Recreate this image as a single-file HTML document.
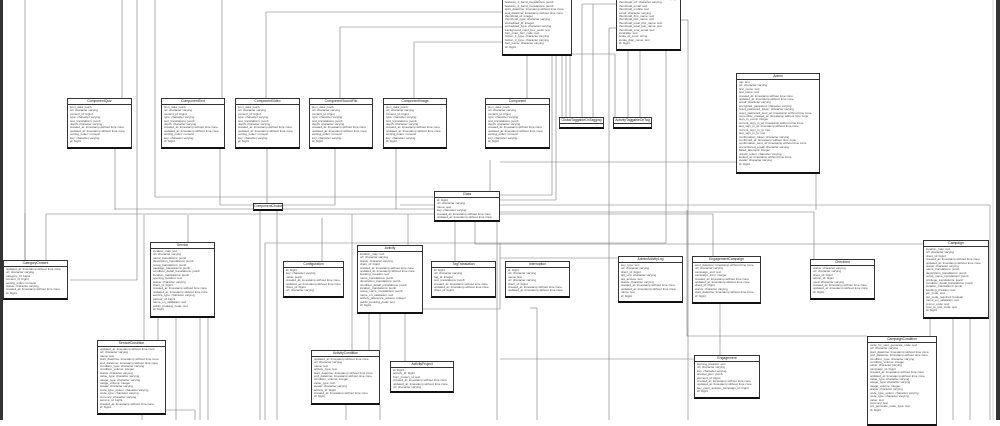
<!DOCTYPE html>
<html><head><meta charset="utf-8"><style>
body{margin:0;width:1000px;height:420px;background:#fff;position:relative;overflow:hidden;font-family:"Liberation Sans",sans-serif}
.b{position:absolute;background:#fff;border:1px solid #333;box-sizing:border-box;border-bottom:2px solid #111;overflow:hidden}
.t{font-size:3.4px;line-height:5px;text-align:center;border-bottom:1.5px double #333;color:#222}
.f{font-size:3px;line-height:3.4px;padding:1px 2px;color:#444;white-space:nowrap}
svg{position:absolute;left:0;top:0}
</style></head><body>
<svg width="1000" height="420" stroke="#777" stroke-width="0.6" fill="none">
<rect x="0" y="0" width="3" height="420" fill="#333" stroke="none"/>
<rect x="996" y="0" width="4" height="420" fill="#333" stroke="none"/>
<line x1="993" y1="0" x2="993" y2="420" stroke="#bbb"/>
<line x1="25" y1="0" x2="25" y2="260"/>
<line x1="137" y1="0" x2="137" y2="210"/>
<line x1="122" y1="0" x2="122" y2="98"/>
<line x1="155" y1="0" x2="155" y2="197"/>
<line x1="155" y1="197" x2="434" y2="197"/>
<line x1="222" y1="0" x2="222" y2="98"/>
<line x1="266" y1="12" x2="266" y2="98"/><line x1="266" y1="12" x2="560" y2="12"/>
<line x1="340" y1="27" x2="340" y2="98"/><line x1="340" y1="27" x2="560" y2="27"/>
<line x1="414" y1="42" x2="414" y2="98"/><line x1="414" y1="42" x2="560" y2="42"/>
<line x1="115" y1="149" x2="115" y2="210"/><line x1="115" y1="209" x2="434" y2="209"/>
<line x1="220" y1="149" x2="220" y2="205"/><line x1="220" y1="205" x2="335" y2="205"/><line x1="335" y1="149" x2="335" y2="205"/>
<line x1="267" y1="149" x2="267" y2="203"/>
<line x1="396" y1="149" x2="396" y2="209"/>
<line x1="490" y1="160" x2="490" y2="191"/>
<line x1="527" y1="56" x2="527" y2="98"/>
<line x1="552" y1="56" x2="552" y2="195"/><line x1="500" y1="195" x2="552" y2="195"/>
<line x1="556" y1="56" x2="556" y2="200"/><line x1="500" y1="200" x2="556" y2="200"/>
<line x1="562" y1="56" x2="562" y2="117"/><line x1="566" y1="56" x2="566" y2="117"/><line x1="570" y1="54" x2="570" y2="117"/>
<line x1="572" y1="54" x2="615" y2="54"/><line x1="615" y1="54" x2="615" y2="117"/>
<line x1="582" y1="4" x2="582" y2="117"/><line x1="582" y1="4" x2="616" y2="4"/>
<line x1="593" y1="4" x2="593" y2="117"/>
<line x1="628" y1="51" x2="628" y2="117"/><line x1="640" y1="51" x2="640" y2="117"/>
<line x1="609" y1="28" x2="609" y2="420"/><line x1="609" y1="28" x2="616" y2="28"/>
<line x1="666" y1="51" x2="666" y2="243"/>
<line x1="681" y1="20" x2="688" y2="20"/><line x1="688" y1="20" x2="688" y2="420"/>
<line x1="500" y1="162" x2="736" y2="162"/>
<line x1="816" y1="174" x2="816" y2="210"/>
<line x1="400" y1="205" x2="990" y2="205"/><line x1="990" y1="205" x2="990" y2="420"/>
<line x1="260" y1="210" x2="260" y2="420"/>
<line x1="277" y1="210" x2="277" y2="420"/>
<line x1="25" y1="213" x2="25" y2="260"/>
<line x1="46" y1="214" x2="46" y2="260"/><line x1="46" y1="214" x2="434" y2="214"/>
<line x1="137" y1="210" x2="137" y2="280"/><line x1="70" y1="280" x2="137" y2="280"/>
<line x1="144" y1="215" x2="144" y2="340"/>
<line x1="188" y1="215" x2="188" y2="242"/>
<line x1="158" y1="318" x2="158" y2="340"/>
<line x1="176" y1="318" x2="176" y2="420"/><line x1="200" y1="318" x2="200" y2="420"/><line x1="208" y1="318" x2="208" y2="420"/>
<line x1="166" y1="410" x2="195" y2="410"/><line x1="195" y1="410" x2="195" y2="420"/>
<line x1="142" y1="414" x2="142" y2="420"/>
<line x1="265" y1="243" x2="666" y2="243"/><line x1="265" y1="243" x2="265" y2="420"/>
<line x1="322" y1="218" x2="322" y2="261"/>
<line x1="352" y1="214" x2="352" y2="350"/>
<line x1="408" y1="214" x2="408" y2="245"/>
<line x1="455" y1="222" x2="455" y2="261"/>
<line x1="475" y1="222" x2="475" y2="244"/><line x1="475" y1="244" x2="500" y2="244"/>
<line x1="497" y1="222" x2="497" y2="420"/>
<line x1="423" y1="309" x2="500" y2="309"/><line x1="500" y1="244" x2="500" y2="309"/>
<line x1="369" y1="314" x2="369" y2="350"/><line x1="380" y1="314" x2="380" y2="350"/><line x1="405" y1="314" x2="405" y2="361"/>
<line x1="346" y1="405" x2="346" y2="420"/><line x1="380" y1="405" x2="380" y2="420"/>
<line x1="500" y1="243" x2="500" y2="244"/>
<line x1="500" y1="244" x2="923" y2="244"/>
<line x1="500" y1="258" x2="618" y2="258"/>
<line x1="500" y1="214" x2="713" y2="214"/><line x1="713" y1="214" x2="713" y2="256"/>
<line x1="720" y1="304" x2="720" y2="355"/>
<line x1="500" y1="359" x2="694" y2="359"/>
<line x1="500" y1="212" x2="814" y2="212"/><line x1="814" y1="212" x2="814" y2="259"/>
<line x1="530" y1="308" x2="537" y2="308"/><line x1="537" y1="308" x2="537" y2="420"/>
<line x1="687" y1="210" x2="687" y2="336"/><line x1="687" y1="336" x2="867" y2="336"/>
<line x1="930" y1="319" x2="930" y2="336"/>
<line x1="953" y1="319" x2="953" y2="420"/><line x1="970" y1="319" x2="970" y2="420"/>
</svg>

<div class="b" style="left:502px;top:-4px;width:70px;height:60px"><div class="f">address: character varying<br>features_1_band_translations: jsonb<br>features_2_band_translations: jsonb<br>start_datetime: timestamp without time zone<br>end_datetime: timestamp without time zone<br>thumbnail_id: integer<br>thumbnail_type: character varying<br>embedded_id: integer<br>embedded_type: character varying<br>background_color_hex_code: text<br>font_color_hex_code: text<br>button_1_type: character varying<br>button_2_type: character varying<br>font_name: character varying<br>id: bigint</div></div>
<div class="b" style="left:616px;top:-4px;width:65px;height:55px"><div class="f">thumbnail_content_type: character varying<br>thumbnail_url: character varying<br>thumbnail_email: text<br>thumbnail_mobile: text<br>email: character varying<br>thumbnail_first_name: text<br>thumbnail_last_name: text<br>thumbnail_local_first_name: text<br>thumbnail_local_last_name: text<br>thumbnail_sms_email: text<br>locatable: text<br>scale_of_zone: string<br>locale_disp_name: text<br>id: bigint</div></div>
<div class="b" style="left:559px;top:117px;width:45px;height:12px"><div class="t">GlobalTaggableOnTagging</div></div>
<div class="b" style="left:613px;top:117px;width:39px;height:12px"><div class="t">ActivityTaggableOnTag</div></div>

<div class="b" style="left:67px;top:98px;width:65px;height:51px"><div class="t">ComponentQuiz</div><div class="f">json_data: jsonb<br>url: character varying<br>content_id: bigint<br>type: character varying<br>text_translations: jsonb<br>depth: character varying<br>created_at: timestamp without time zone<br>updated_at: timestamp without time zone<br>sorting_index: numeric<br>key: character varying<br>id: bigint</div></div>
<div class="b" style="left:161px;top:98px;width:64px;height:51px"><div class="t">ComponentText</div><div class="f">json_data: jsonb<br>url: character varying<br>content_id: bigint<br>type: character varying<br>text_translations: jsonb<br>depth: character varying<br>created_at: timestamp without time zone<br>updated_at: timestamp without time zone<br>sorting_index: numeric<br>key: character varying<br>id: bigint</div></div>
<div class="b" style="left:235px;top:98px;width:65px;height:51px"><div class="t">ComponentVideo</div><div class="f">json_data: jsonb<br>url: character varying<br>content_id: bigint<br>type: character varying<br>text_translations: jsonb<br>depth: character varying<br>created_at: timestamp without time zone<br>updated_at: timestamp without time zone<br>sorting_index: numeric<br>key: character varying<br>id: bigint</div></div>
<div class="b" style="left:309px;top:98px;width:64px;height:51px"><div class="t">ComponentSoundFile</div><div class="f">json_data: jsonb<br>url: character varying<br>content_id: bigint<br>type: character varying<br>text_translations: jsonb<br>depth: character varying<br>created_at: timestamp without time zone<br>updated_at: timestamp without time zone<br>sorting_index: numeric<br>key: character varying<br>id: bigint</div></div>
<div class="b" style="left:383px;top:98px;width:64px;height:51px"><div class="t">ComponentImage</div><div class="f">json_data: jsonb<br>url: character varying<br>content_id: bigint<br>type: character varying<br>text_translations: jsonb<br>depth: character varying<br>created_at: timestamp without time zone<br>updated_at: timestamp without time zone<br>sorting_index: numeric<br>key: character varying<br>id: bigint</div></div>
<div class="b" style="left:485px;top:98px;width:65px;height:51px"><div class="t">Component</div><div class="f">json_data: jsonb<br>url: character varying<br>content_id: bigint<br>type: character varying<br>text_translations: jsonb<br>depth: character varying<br>created_at: timestamp without time zone<br>updated_at: timestamp without time zone<br>sorting_index: numeric<br>key: character varying<br>id: bigint</div></div>
<div class="b" style="left:253px;top:203px;width:30px;height:8px"><div class="t">ComponentChoice</div></div>
<div class="b" style="left:434px;top:191px;width:66px;height:31px"><div class="t">Class</div><div class="f">id: bigint<br>url: character varying<br>name: text<br>key: character varying<br>created_at: timestamp without time zone<br>updated_at: timestamp without time zone</div></div>
<div class="b" style="left:736px;top:73px;width:84px;height:101px"><div class="t">Admin</div><div class="f">otp: text<br>url: character varying<br>first_name: text<br>last_name: text<br>created_at: timestamp without time zone<br>updated_at: timestamp without time zone<br>email: character varying<br>encrypted_password: character varying<br>reset_password_token: character varying<br>reset_password_sent_at: timestamp without time zone<br>remember_created_at: timestamp without time zone<br>sign_in_count: integer<br>current_sign_in_at: timestamp without time zone<br>last_sign_in_at: timestamp without time zone<br>current_sign_in_ip: inet<br>last_sign_in_ip: inet<br>confirmation_token: character varying<br>confirmed_at: timestamp without time zone<br>confirmation_sent_at: timestamp without time zone<br>unconfirmed_email: character varying<br>failed_attempts: integer<br>unlock_token: character varying<br>locked_at: timestamp without time zone<br>avatar: character varying<br>id: bigint</div></div>

<div class="b" style="left:3px;top:260px;width:65px;height:40px"><div class="t">CategoryContent</div><div class="f">updated_at: timestamp without time zone<br>url: character varying<br>category_id: bigint<br>content_id: bigint<br>sorting_index: numeric<br>status: character varying<br>created_at: timestamp without time zone<br>id: bigint</div></div>
<div class="b" style="left:150px;top:242px;width:65px;height:76px"><div class="t">Service</div><div class="f">location_map: text<br>url: character varying<br>name_translations: jsonb<br>description_translations: jsonb<br>recap_translations: jsonb<br>package_translations: jsonb<br>condition_detail_translations: jsonb<br>location_translations: jsonb<br>opening_location: text<br>status: character varying<br>client_id: bigint<br>created_at: timestamp without time zone<br>updated_at: timestamp without time zone<br>service_type: character varying<br>partner_id: bigint<br>name_en_validation: text<br>public_booking_code: text<br>id: bigint</div></div>
<div class="b" style="left:97px;top:340px;width:69px;height:75px"><div class="t">ServiceCondition</div><div class="f">updated_at: timestamp without time zone<br>url: character varying<br>name: text<br>start_datetime: timestamp without time zone<br>end_datetime: timestamp without time zone<br>condition_type: character varying<br>condition_volume: integer<br>status: character varying<br>value_type: character varying<br>usage_type: character varying<br>usage_volume: integer<br>avatar: character varying<br>code_type_option: character varying<br>code_type: character varying<br>currency: character varying<br>service_id: bigint<br>created_at: timestamp without time zone<br>id: bigint</div></div>
<div class="b" style="left:283px;top:261px;width:61px;height:37px"><div class="t">Configuration</div><div class="f">id: bigint<br>key: character varying<br>value: jsonb<br>created_at: timestamp without time zone<br>updated_at: timestamp without time zone<br>client_id: bigint<br>url: character varying</div></div>
<div class="b" style="left:357px;top:245px;width:66px;height:69px"><div class="t">Activity</div><div class="f">location_map: text<br>url: character varying<br>status: character varying<br>client_id: bigint<br>created_at: timestamp without time zone<br>updated_at: timestamp without time zone<br>booking_creation: text<br>name_translations: jsonb<br>description_translations: jsonb<br>condition_detail_translations: jsonb<br>location_translations: jsonb<br>recap_name_translations: jsonb<br>name_en_validation: text<br>activity_reference_volume: integer<br>public_booking_code: text<br>id: bigint</div></div>
<div class="b" style="left:431px;top:261px;width:65px;height:37px"><div class="t">TagTranslation</div><div class="f">id: bigint<br>url: character varying<br>tag_id: integer<br>text_translations: jsonb<br>created_at: timestamp without time zone<br>updated_at: timestamp without time zone<br>client_id: bigint</div></div>
<div class="b" style="left:311px;top:350px;width:69px;height:55px"><div class="t">ActivityCondition</div><div class="f">updated_at: timestamp without time zone<br>url: character varying<br>name: text<br>activity_type: text<br>start_datetime: timestamp without time zone<br>end_datetime: timestamp without time zone<br>condition_volume: integer<br>value_type: text<br>avatar: character varying<br>activity_id: bigint<br>created_at: timestamp without time zone<br>id: bigint</div></div>
<div class="b" style="left:390px;top:361px;width:64px;height:32px"><div class="t">ActivityProject</div><div class="f">id: bigint<br>activity_id: bigint<br>from_project_id: text<br>created_at: timestamp without time zone<br>updated_at: timestamp without time zone<br>url: character varying</div></div>
<div class="b" style="left:505px;top:261px;width:65px;height:37px"><div class="t">Interruption</div><div class="f">id: bigint<br>url: character varying<br>name: text<br>uri: character varying<br>client_id: bigint<br>created_at: timestamp without time zone<br>updated_at: timestamp without time zone</div></div>
<div class="b" style="left:618px;top:256px;width:65px;height:47px"><div class="t">AdminActivityLog</div><div class="f">key_type: text<br>url: character varying<br>client_id: bigint<br>api_uris: character varying<br>api_access: text<br>status: character varying<br>created_at: timestamp without time zone<br>updated_at: timestamp without time zone<br>name: text<br>id: bigint</div></div>
<div class="b" style="left:692px;top:256px;width:69px;height:48px"><div class="t">EngagementCampaign</div><div class="f">sent_datetime: timestamp without time zone<br>url: character varying<br>campaign_sort: text<br>campaign_from: integer<br>created_at: timestamp without time zone<br>updated_at: timestamp without time zone<br>client_id: bigint<br>status: character varying<br>start_datetime: timestamp without time zone<br>id: bigint</div></div>
<div class="b" style="left:810px;top:259px;width:65px;height:41px"><div class="t">Checkbox</div><div class="f">status: character varying<br>url: character varying<br>client_id: bigint<br>admin_id: bigint<br>uses: character varying<br>created_at: timestamp without time zone<br>updated_at: timestamp without time zone<br>id: bigint</div></div>
<div class="b" style="left:923px;top:240px;width:66px;height:79px"><div class="t">Campaign</div><div class="f">location_map: text<br>url: character varying<br>client_id: bigint<br>created_at: timestamp without time zone<br>updated_at: timestamp without time zone<br>status: character varying<br>name_translations: jsonb<br>description_translations: jsonb<br>recap_name_translations: jsonb<br>privilege_translations: jsonb<br>condition_detail_translations: jsonb<br>location_translations: jsonb<br>booking_creation: text<br>pin_code: text<br>pin_code_required: boolean<br>name_en_validation: text<br>promo_code: text<br>how_to_use_code: text<br>id: bigint</div></div>
<div class="b" style="left:867px;top:336px;width:70px;height:90px"><div class="t">CampaignCondition</div><div class="f">code_for_sent_generate_code: text<br>url: character varying<br>start_datetime: timestamp without time zone<br>end_datetime: timestamp without time zone<br>condition_type: character varying<br>condition_volume: integer<br>value: character varying<br>campaign_id: bigint<br>created_at: timestamp without time zone<br>updated_at: timestamp without time zone<br>value_type: character varying<br>usage_type: character varying<br>usage_volume: integer<br>status: character varying<br>code_type_option: character varying<br>code_type: character varying<br>value: text<br>currency: text<br>pre_generate_code_type: text<br>id: bigint</div></div>
<div class="b" style="left:694px;top:355px;width:66px;height:44px"><div class="t">Engagement</div><div class="f">burning_location: text<br>url: character varying<br>key: character varying<br>answer_json: jsonb<br>element_id: bigint<br>created_at: timestamp without time zone<br>updated_at: timestamp without time zone<br>key_point_answer_campaign_id: bigint<br>id: bigint</div></div>
</body></html>
